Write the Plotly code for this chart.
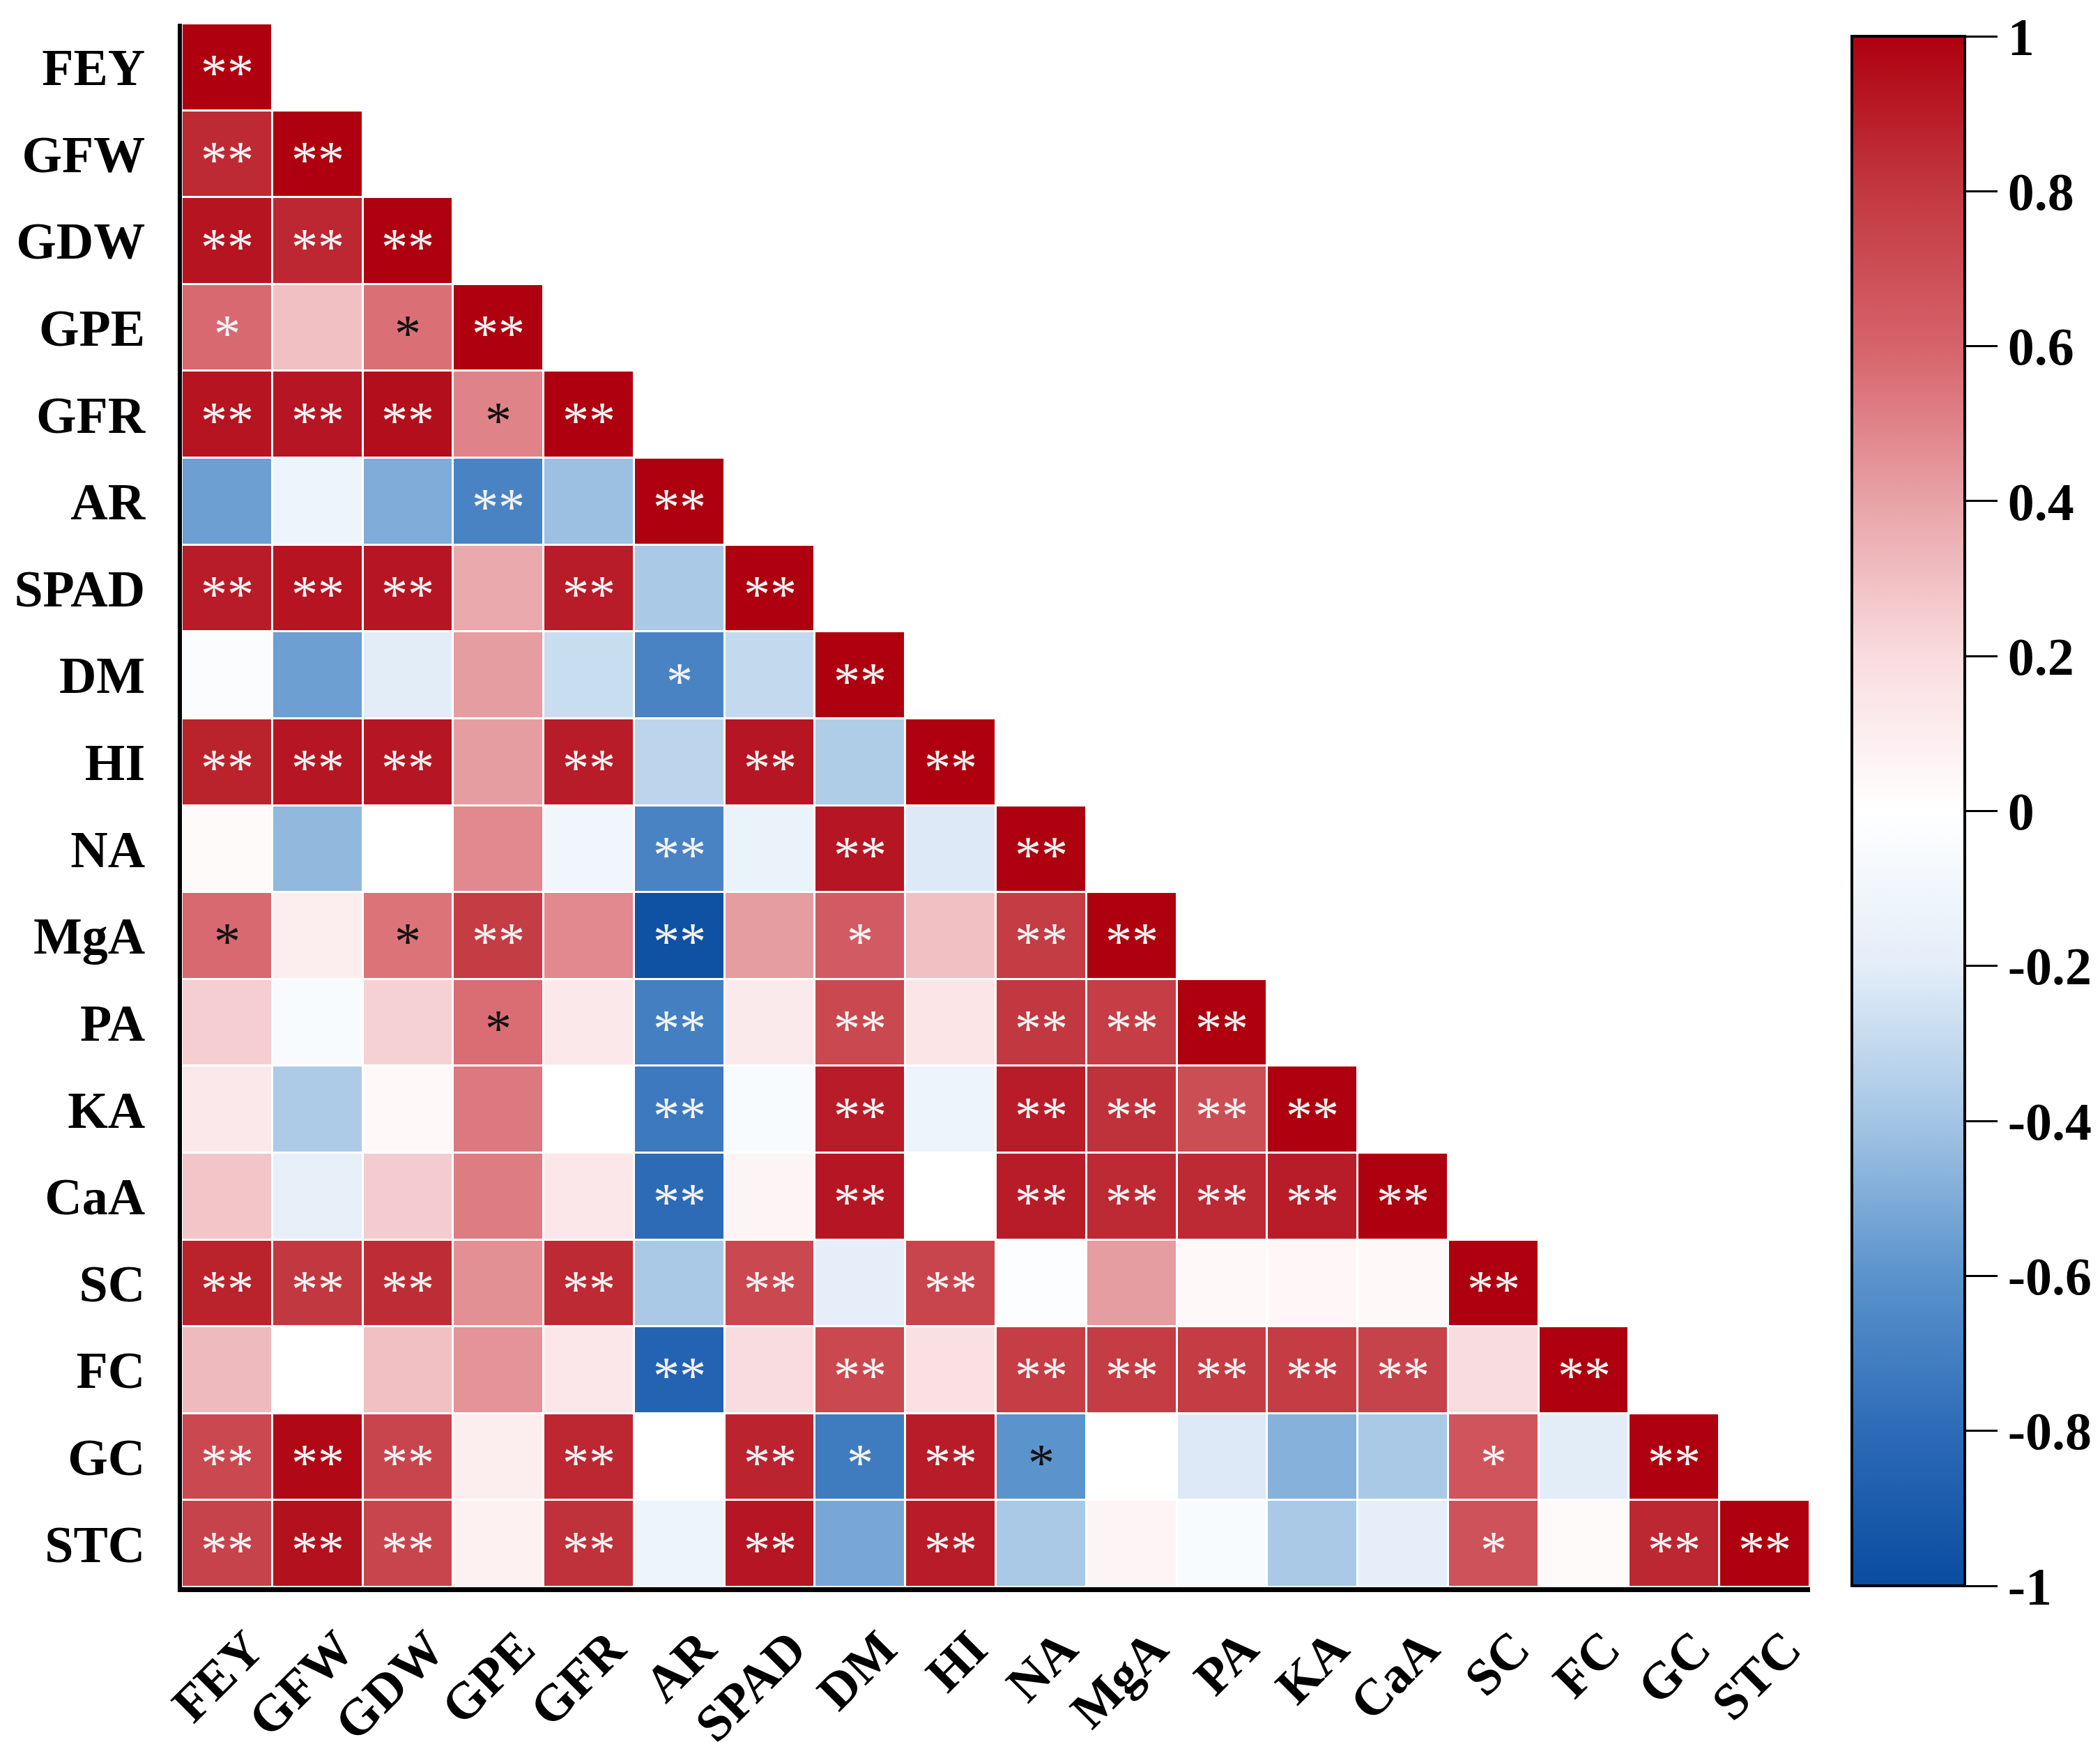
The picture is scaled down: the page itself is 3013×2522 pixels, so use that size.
import plotly.graph_objects as go

labels = ["FEY", "GFW", "GDW", "GPE", "GFR", "AR", "SPAD", "DM", "HI", "NA",
          "MgA", "PA", "KA", "CaA", "SC", "FC", "GC", "STC"]

# lower-triangular correlation values, row by row (row i has i+1 values)
r_FEY = [1.0]
r_GFW = [0.85, 1.0]
r_GDW = [0.93, 0.86, 1.0]
r_GPE = [0.58, 0.30, 0.56, 1.0]
r_GFR = [0.93, 0.92, 0.95, 0.50, 1.0]
r_AR = [-0.55, -0.12, -0.50, -0.68, -0.42, 1.0]
r_SPAD = [0.90, 0.93, 0.92, 0.38, 0.90, -0.38, 1.0]
r_DM = [-0.03, -0.55, -0.20, 0.42, -0.28, -0.68, -0.30, 1.0]
r_HI = [0.88, 0.92, 0.92, 0.42, 0.90, -0.32, 0.92, -0.36, 1.0]
r_NA = [0.03, -0.45, 0.0, 0.48, -0.10, -0.68, -0.15, 0.92, -0.22, 1.0]
r_MgA = [0.58, 0.10, 0.55, 0.78, 0.48, -0.97, 0.42, 0.64, 0.30, 0.78, 1.0]
r_PA = [0.25, -0.05, 0.24, 0.57, 0.13, -0.70, 0.12, 0.72, 0.15, 0.80, 0.77, 1.0]
r_KA = [0.13, -0.37, 0.04, 0.53, 0.0, -0.73, -0.05, 0.90, -0.12, 0.90, 0.82, 0.70, 1.0]
r_CaA = [0.28, -0.17, 0.26, 0.52, 0.14, -0.80, 0.06, 0.92, 0.0, 0.90, 0.85, 0.85, 0.90, 1.0]
r_SC = [0.88, 0.80, 0.84, 0.46, 0.85, -0.38, 0.72, -0.18, 0.74, -0.02, 0.42, 0.04, 0.05, 0.04, 1.0]
r_FC = [0.32, 0.0, 0.30, 0.45, 0.14, -0.85, 0.20, 0.72, 0.18, 0.77, 0.78, 0.78, 0.78, 0.75, 0.20, 1.0]
r_GC = [0.72, 0.97, 0.74, 0.10, 0.86, 0.0, 0.87, -0.72, 0.90, -0.60, 0.0, -0.22, -0.48, -0.38, 0.67, -0.20, 1.0]
r_STC = [0.75, 0.94, 0.74, 0.08, 0.82, -0.12, 0.92, -0.52, 0.90, -0.38, 0.06, -0.05, -0.38, -0.18, 0.68, 0.03, 0.86, 1.0]

# significance marks, row by row
s_FEY = ["**"]
s_GFW = ["**", "**"]
s_GDW = ["**", "**", "**"]
s_GPE = ["*", "", "*", "**"]
s_GFR = ["**", "**", "**", "*", "**"]
s_AR = ["", "", "", "**", "", "**"]
s_SPAD = ["**", "**", "**", "", "**", "", "**"]
s_DM = ["", "", "", "", "", "*", "", "**"]
s_HI = ["**", "**", "**", "", "**", "", "**", "", "**"]
s_NA = ["", "", "", "", "", "**", "", "**", "", "**"]
s_MgA = ["*", "", "*", "**", "", "**", "", "*", "", "**", "**"]
s_PA = ["", "", "", "*", "", "**", "", "**", "", "**", "**", "**"]
s_KA = ["", "", "", "", "", "**", "", "**", "", "**", "**", "**", "**"]
s_CaA = ["", "", "", "", "", "**", "", "**", "", "**", "**", "**", "**", "**"]
s_SC = ["**", "**", "**", "", "**", "", "**", "", "**", "", "", "", "", "", "**"]
s_FC = ["", "", "", "", "", "**", "", "**", "", "**", "**", "**", "**", "**", "", "**"]
s_GC = ["**", "**", "**", "", "**", "", "**", "*", "**", "*", "", "", "", "", "*", "", "**"]
s_STC = ["**", "**", "**", "", "**", "", "**", "", "**", "", "", "", "", "", "*", "", "**", "**"]

# cells whose mark is drawn in black (row label, column label)
dark_marks = [("GPE", "GDW"), ("GFR", "GPE"), ("MgA", "FEY"), ("MgA", "GDW"),
              ("PA", "GPE"), ("GC", "NA")]

rows = [r_FEY, r_GFW, r_GDW, r_GPE, r_GFR, r_AR, r_SPAD, r_DM, r_HI, r_NA,
        r_MgA, r_PA, r_KA, r_CaA, r_SC, r_FC, r_GC, r_STC]
sigs = [s_FEY, s_GFW, s_GDW, s_GPE, s_GFR, s_AR, s_SPAD, s_DM, s_HI, s_NA,
        s_MgA, s_PA, s_KA, s_CaA, s_SC, s_FC, s_GC, s_STC]

n = len(labels)
z = [[(rows[i][j] if j <= i else None) for j in range(n)] for i in range(n)]

colorscale = [
    [0.0, "#0A4CA0"], [0.1, "#2D6BB7"], [0.2, "#5B93CC"], [0.3, "#A3C5E4"],
    [0.4, "#E3EDF8"], [0.5, "#FFFFFF"], [0.6, "#F9DCDF"], [0.7, "#E8A3A7"],
    [0.8, "#D6636A"], [0.9, "#C23840"], [1.0, "#AE000F"],
]

cb_vals = [1, 0.8, 0.6, 0.4, 0.2, 0, -0.2, -0.4, -0.6, -0.8, -1]
cb_text = ["1", "0.8", "0.6", "0.4", "0.2", "0", "-0.2", "-0.4", "-0.6", "-0.8", "-1"]

font_family = "Liberation Serif, Times New Roman, serif"

fig = go.Figure()
fig.add_trace(go.Heatmap(
    z=z, x=labels, y=labels,
    zmin=-1, zmax=1, colorscale=colorscale,
    xgap=3, ygap=3, hoverongaps=False,
    colorbar=dict(
        x=1.0214, xanchor="left", xref="paper",
        y=0.4964, yanchor="middle",
        thickness=162, thicknessmode="pixels",
        len=2243, lenmode="pixels",
        outlinewidth=4, outlinecolor="black",
        tickvals=cb_vals, ticktext=cb_text,
        ticks="outside", ticklen=45, tickwidth=3, tickcolor="black",
        ticklabeloverflow="allow",
        tickfont=dict(family=font_family, size=76, color="black", weight="bold"),
    ),
))

annotations = []
for i in range(n):
    for j in range(i + 1):
        mark = sigs[i][j]
        if not mark:
            continue
        dark = (labels[i], labels[j]) in dark_marks
        annotations.append(dict(
            x=labels[j], y=labels[i], xref="x", yref="y",
            text=mark, showarrow=False, yshift=-8,
            font=dict(family=font_family, size=76,
                      color="#111111" if dark else "#F4F4F4"),
        ))

fig.update_layout(
    width=3013, height=2522,
    margin=dict(l=253, r=424, t=26, b=253, pad=0, autoexpand=False),
    paper_bgcolor="white", plot_bgcolor="white",
    annotations=annotations,
    xaxis=dict(
        type="category", showgrid=False, zeroline=False,
        showline=True, linewidth=7, linecolor="black",
        tickangle=-45, ticks="outside", ticklen=8, tickcolor="rgba(0,0,0,0)",
        ticklabelshift=30,
        tickfont=dict(family=font_family, size=74, color="black", weight="bold"),
        automargin=False,
    ),
    yaxis=dict(
        type="category", autorange="reversed", showgrid=False, zeroline=False,
        showline=True, linewidth=6, linecolor="black",
        ticks="outside", ticklen=32, tickcolor="rgba(0,0,0,0)",
        tickfont=dict(family=font_family, size=74, color="black", weight="bold"),
        automargin=False,
    ),
)

fig.write_html("out.html")
